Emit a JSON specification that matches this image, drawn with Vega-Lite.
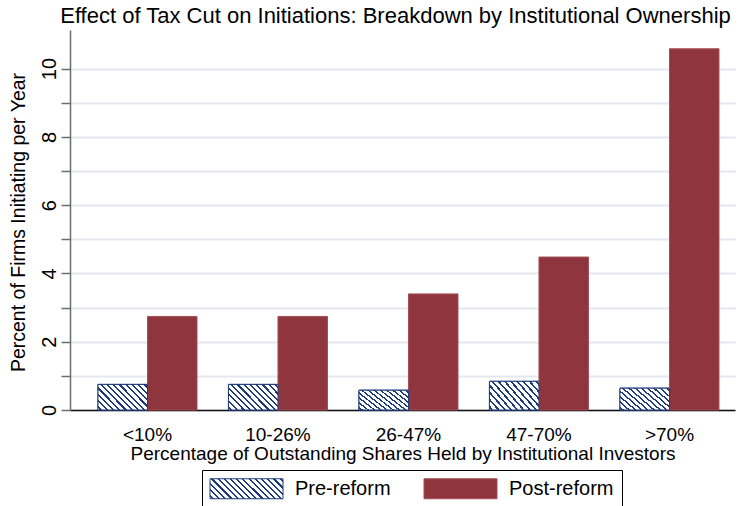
{
  "$schema": "https://vega.github.io/schema/vega-lite/v6.json",
  "width": 665,
  "height": 380,
  "autosize": {"type": "none"},
  "padding": {"left": 70, "top": 30, "right": 3, "bottom": 96},
  "background": "white",
  "config": {
    "view": {"stroke": null},
    "font": "Liberation Sans",
    "axis": {"labelFont": "Liberation Sans", "titleFont": "Liberation Sans", "labelColor": "#000", "titleColor": "#000", "titleFontWeight": "normal"},
    "legend": {"labelFont": "Liberation Sans"}
  },
  "title": {
    "text": "Effect of Tax Cut on Initiations: Breakdown by Institutional Ownership",
    "fontSize": 22,
    "fontWeight": "normal",
    "font": "Liberation Sans",
    "color": "#000",
    "anchor": "middle",
    "frame": "group",
    "baseline": "alphabetic",
    "offset": 5.5,
    "dx": -7,
    "dy": 20.5
  },
  "data": {
    "values": [
      {"group": "<10%", "period": "Pre-reform", "pct": 0.75},
      {"group": "<10%", "period": "Post-reform", "pct": 2.74},
      {"group": "10-26%", "period": "Pre-reform", "pct": 0.75},
      {"group": "10-26%", "period": "Post-reform", "pct": 2.74},
      {"group": "26-47%", "period": "Pre-reform", "pct": 0.58},
      {"group": "26-47%", "period": "Post-reform", "pct": 3.40},
      {"group": "47-70%", "period": "Pre-reform", "pct": 0.84},
      {"group": "47-70%", "period": "Post-reform", "pct": 4.48},
      {"group": ">70%", "period": "Pre-reform", "pct": 0.64},
      {"group": ">70%", "period": "Post-reform", "pct": 10.58}
    ]
  },
  "encoding": {
    "x": {
      "field": "group",
      "type": "nominal",
      "scale": {"domain": ["<10%", "10-26%", "26-47%", "47-70%", ">70%"], "paddingInner": 0.241, "paddingOuter": 0.1685, "align": 0.636},
      "axis": {
        "title": "Percentage of Outstanding Shares Held by Institutional Investors",
        "titleFontSize": 19,
        "titleY": 49.5,
        "titleBaseline": "alphabetic",
        "labelFontSize": 19,
        "labelAngle": 0,
        "labelBaseline": "top",
        "labelPadding": 15,
        "ticks": false,
        "tickSize": 0,
        "domainColor": "#111",
        "domainWidth": 1.5,
        "grid": false
      }
    },
    "xOffset": {
      "field": "period",
      "type": "nominal",
      "scale": {"domain": ["Pre-reform", "Post-reform"], "paddingInner": 0, "paddingOuter": 0}
    },
    "y": {
      "field": "pct",
      "type": "quantitative",
      "scale": {"domain": [0, 11.13], "nice": false},
      "axis": {
        "title": "Percent of Firms Initiating per Year",
        "titleFontSize": 19.5,
        "titleX": -45.5,
        "titleY": 192,
        "titleAlign": "center",
        "titleAngle": -90,
        "titleBaseline": "alphabetic",
        "values": [0, 1, 2, 3, 4, 5, 6, 7, 8, 9, 10],
        "labelExpr": "datum.value % 2 === 0 ? datum.label : ''",
        "labelFontSize": 20,
        "labelAngle": -90,
        "labelAlign": "center",
        "labelBaseline": "alphabetic",
        "labelPadding": 6,
        "tickSize": 9,
        "tickColor": "#6E6E6E",
        "tickWidth": 1.5,
        "domainColor": "#6E6E6E",
        "domainWidth": 1.5,
        "grid": true,
        "gridColor": "#E3E7F0",
        "gridWidth": 2
      }
    }
  },
  "layer": [
    {
      "mark": {"type": "bar", "strokeWidth": 1},
      "encoding": {
        "fill": {
          "field": "period",
          "type": "nominal",
          "scale": {
            "domain": ["Pre-reform", "Post-reform"],
            "range": [
              {"expr": "{gradient: 'linear', x1: 0, y1: 1, x2: 1.185, y2: 0.675, stops: [{offset: 0, color: '#ffffff'}, {offset: 0.022, color: '#ffffff'}, {offset: 0.022, color: '#1F3C7A'}, {offset: 0.045, color: '#1F3C7A'}, {offset: 0.045, color: '#ffffff'}, {offset: 0.089, color: '#ffffff'}, {offset: 0.089, color: '#1F3C7A'}, {offset: 0.112, color: '#1F3C7A'}, {offset: 0.112, color: '#ffffff'}, {offset: 0.155, color: '#ffffff'}, {offset: 0.155, color: '#1F3C7A'}, {offset: 0.178, color: '#1F3C7A'}, {offset: 0.178, color: '#ffffff'}, {offset: 0.222, color: '#ffffff'}, {offset: 0.222, color: '#1F3C7A'}, {offset: 0.245, color: '#1F3C7A'}, {offset: 0.245, color: '#ffffff'}, {offset: 0.289, color: '#ffffff'}, {offset: 0.289, color: '#1F3C7A'}, {offset: 0.312, color: '#1F3C7A'}, {offset: 0.312, color: '#ffffff'}, {offset: 0.355, color: '#ffffff'}, {offset: 0.355, color: '#1F3C7A'}, {offset: 0.378, color: '#1F3C7A'}, {offset: 0.378, color: '#ffffff'}, {offset: 0.422, color: '#ffffff'}, {offset: 0.422, color: '#1F3C7A'}, {offset: 0.445, color: '#1F3C7A'}, {offset: 0.445, color: '#ffffff'}, {offset: 0.489, color: '#ffffff'}, {offset: 0.489, color: '#1F3C7A'}, {offset: 0.512, color: '#1F3C7A'}, {offset: 0.512, color: '#ffffff'}, {offset: 0.555, color: '#ffffff'}, {offset: 0.555, color: '#1F3C7A'}, {offset: 0.578, color: '#1F3C7A'}, {offset: 0.578, color: '#ffffff'}, {offset: 0.622, color: '#ffffff'}, {offset: 0.622, color: '#1F3C7A'}, {offset: 0.645, color: '#1F3C7A'}, {offset: 0.645, color: '#ffffff'}, {offset: 0.689, color: '#ffffff'}, {offset: 0.689, color: '#1F3C7A'}, {offset: 0.712, color: '#1F3C7A'}, {offset: 0.712, color: '#ffffff'}, {offset: 0.755, color: '#ffffff'}, {offset: 0.755, color: '#1F3C7A'}, {offset: 0.778, color: '#1F3C7A'}, {offset: 0.778, color: '#ffffff'}, {offset: 0.822, color: '#ffffff'}, {offset: 0.822, color: '#1F3C7A'}, {offset: 0.845, color: '#1F3C7A'}, {offset: 0.845, color: '#ffffff'}, {offset: 0.889, color: '#ffffff'}, {offset: 0.889, color: '#1F3C7A'}, {offset: 0.912, color: '#1F3C7A'}, {offset: 0.912, color: '#ffffff'}, {offset: 0.955, color: '#ffffff'}, {offset: 0.955, color: '#1F3C7A'}, {offset: 0.978, color: '#1F3C7A'}, {offset: 0.978, color: '#ffffff'}, {offset: 1, color: '#ffffff'}]}"},
              "#8E353E"
            ]
          },
          "legend": {
            "title": null,
            "orient": "none",
            "legendX": 132,
            "legendY": 440,
            "direction": "horizontal",
            "padding": 8,
            "strokeColor": "#000",
            "fillColor": "#ffffff",
            "symbolType": "M-3.65,-1H3.65V1H-3.65Z",
            "symbolSize": 400,
            "symbolOffset": 26,
            "symbolStrokeWidth": 1,
            "symbolOpacity": 1,
            "labelFontSize": 20,
            "labelColor": "#000",
            "labelOffset": 38,
            "columnPadding": 31
          }
        },
        "stroke": {
          "field": "period",
          "type": "nominal",
          "scale": {"domain": ["Pre-reform", "Post-reform"], "range": ["#1F3C7A", "#A54F57"]},
          "legend": {
            "title": null,
            "orient": "none",
            "legendX": 132,
            "legendY": 440,
            "direction": "horizontal",
            "padding": 8,
            "strokeColor": "#000",
            "fillColor": "#ffffff",
            "symbolType": "M-3.65,-1H3.65V1H-3.65Z",
            "symbolSize": 400,
            "symbolOffset": 26,
            "symbolStrokeWidth": 1,
            "symbolOpacity": 1,
            "labelFontSize": 20,
            "labelColor": "#000",
            "labelOffset": 38,
            "columnPadding": 31
          }
        }
      }
    },
    {
      "transform": [{"filter": "datum.period === 'Pre-reform'"}],
      "mark": {
        "type": "bar",
        "strokeWidth": 1,
        "stroke": "#1F3C7A",
        "fill": {
          "gradient": "linear", "x1": 0, "y1": 1, "x2": 1.198, "y2": 0.389,
          "stops": [
            {"offset": 0, "color": "#ffffff"},
            {"offset": 0.027, "color": "#ffffff"}, {"offset": 0.027, "color": "#1F3C7A"}, {"offset": 0.056, "color": "#1F3C7A"}, {"offset": 0.056, "color": "#ffffff"},
            {"offset": 0.110, "color": "#ffffff"}, {"offset": 0.110, "color": "#1F3C7A"}, {"offset": 0.139, "color": "#1F3C7A"}, {"offset": 0.139, "color": "#ffffff"},
            {"offset": 0.194, "color": "#ffffff"}, {"offset": 0.194, "color": "#1F3C7A"}, {"offset": 0.223, "color": "#1F3C7A"}, {"offset": 0.223, "color": "#ffffff"},
            {"offset": 0.277, "color": "#ffffff"}, {"offset": 0.277, "color": "#1F3C7A"}, {"offset": 0.306, "color": "#1F3C7A"}, {"offset": 0.306, "color": "#ffffff"},
            {"offset": 0.360, "color": "#ffffff"}, {"offset": 0.360, "color": "#1F3C7A"}, {"offset": 0.389, "color": "#1F3C7A"}, {"offset": 0.389, "color": "#ffffff"},
            {"offset": 0.444, "color": "#ffffff"}, {"offset": 0.444, "color": "#1F3C7A"}, {"offset": 0.473, "color": "#1F3C7A"}, {"offset": 0.473, "color": "#ffffff"},
            {"offset": 0.527, "color": "#ffffff"}, {"offset": 0.527, "color": "#1F3C7A"}, {"offset": 0.556, "color": "#1F3C7A"}, {"offset": 0.556, "color": "#ffffff"},
            {"offset": 0.610, "color": "#ffffff"}, {"offset": 0.610, "color": "#1F3C7A"}, {"offset": 0.639, "color": "#1F3C7A"}, {"offset": 0.639, "color": "#ffffff"},
            {"offset": 0.694, "color": "#ffffff"}, {"offset": 0.694, "color": "#1F3C7A"}, {"offset": 0.723, "color": "#1F3C7A"}, {"offset": 0.723, "color": "#ffffff"},
            {"offset": 0.777, "color": "#ffffff"}, {"offset": 0.777, "color": "#1F3C7A"}, {"offset": 0.806, "color": "#1F3C7A"}, {"offset": 0.806, "color": "#ffffff"},
            {"offset": 0.860, "color": "#ffffff"}, {"offset": 0.860, "color": "#1F3C7A"}, {"offset": 0.889, "color": "#1F3C7A"}, {"offset": 0.889, "color": "#ffffff"},
            {"offset": 0.944, "color": "#ffffff"}, {"offset": 0.944, "color": "#1F3C7A"}, {"offset": 0.973, "color": "#1F3C7A"}, {"offset": 0.973, "color": "#ffffff"},
            {"offset": 1, "color": "#ffffff"}
          ]
        }
      }
    }
  ]
}
